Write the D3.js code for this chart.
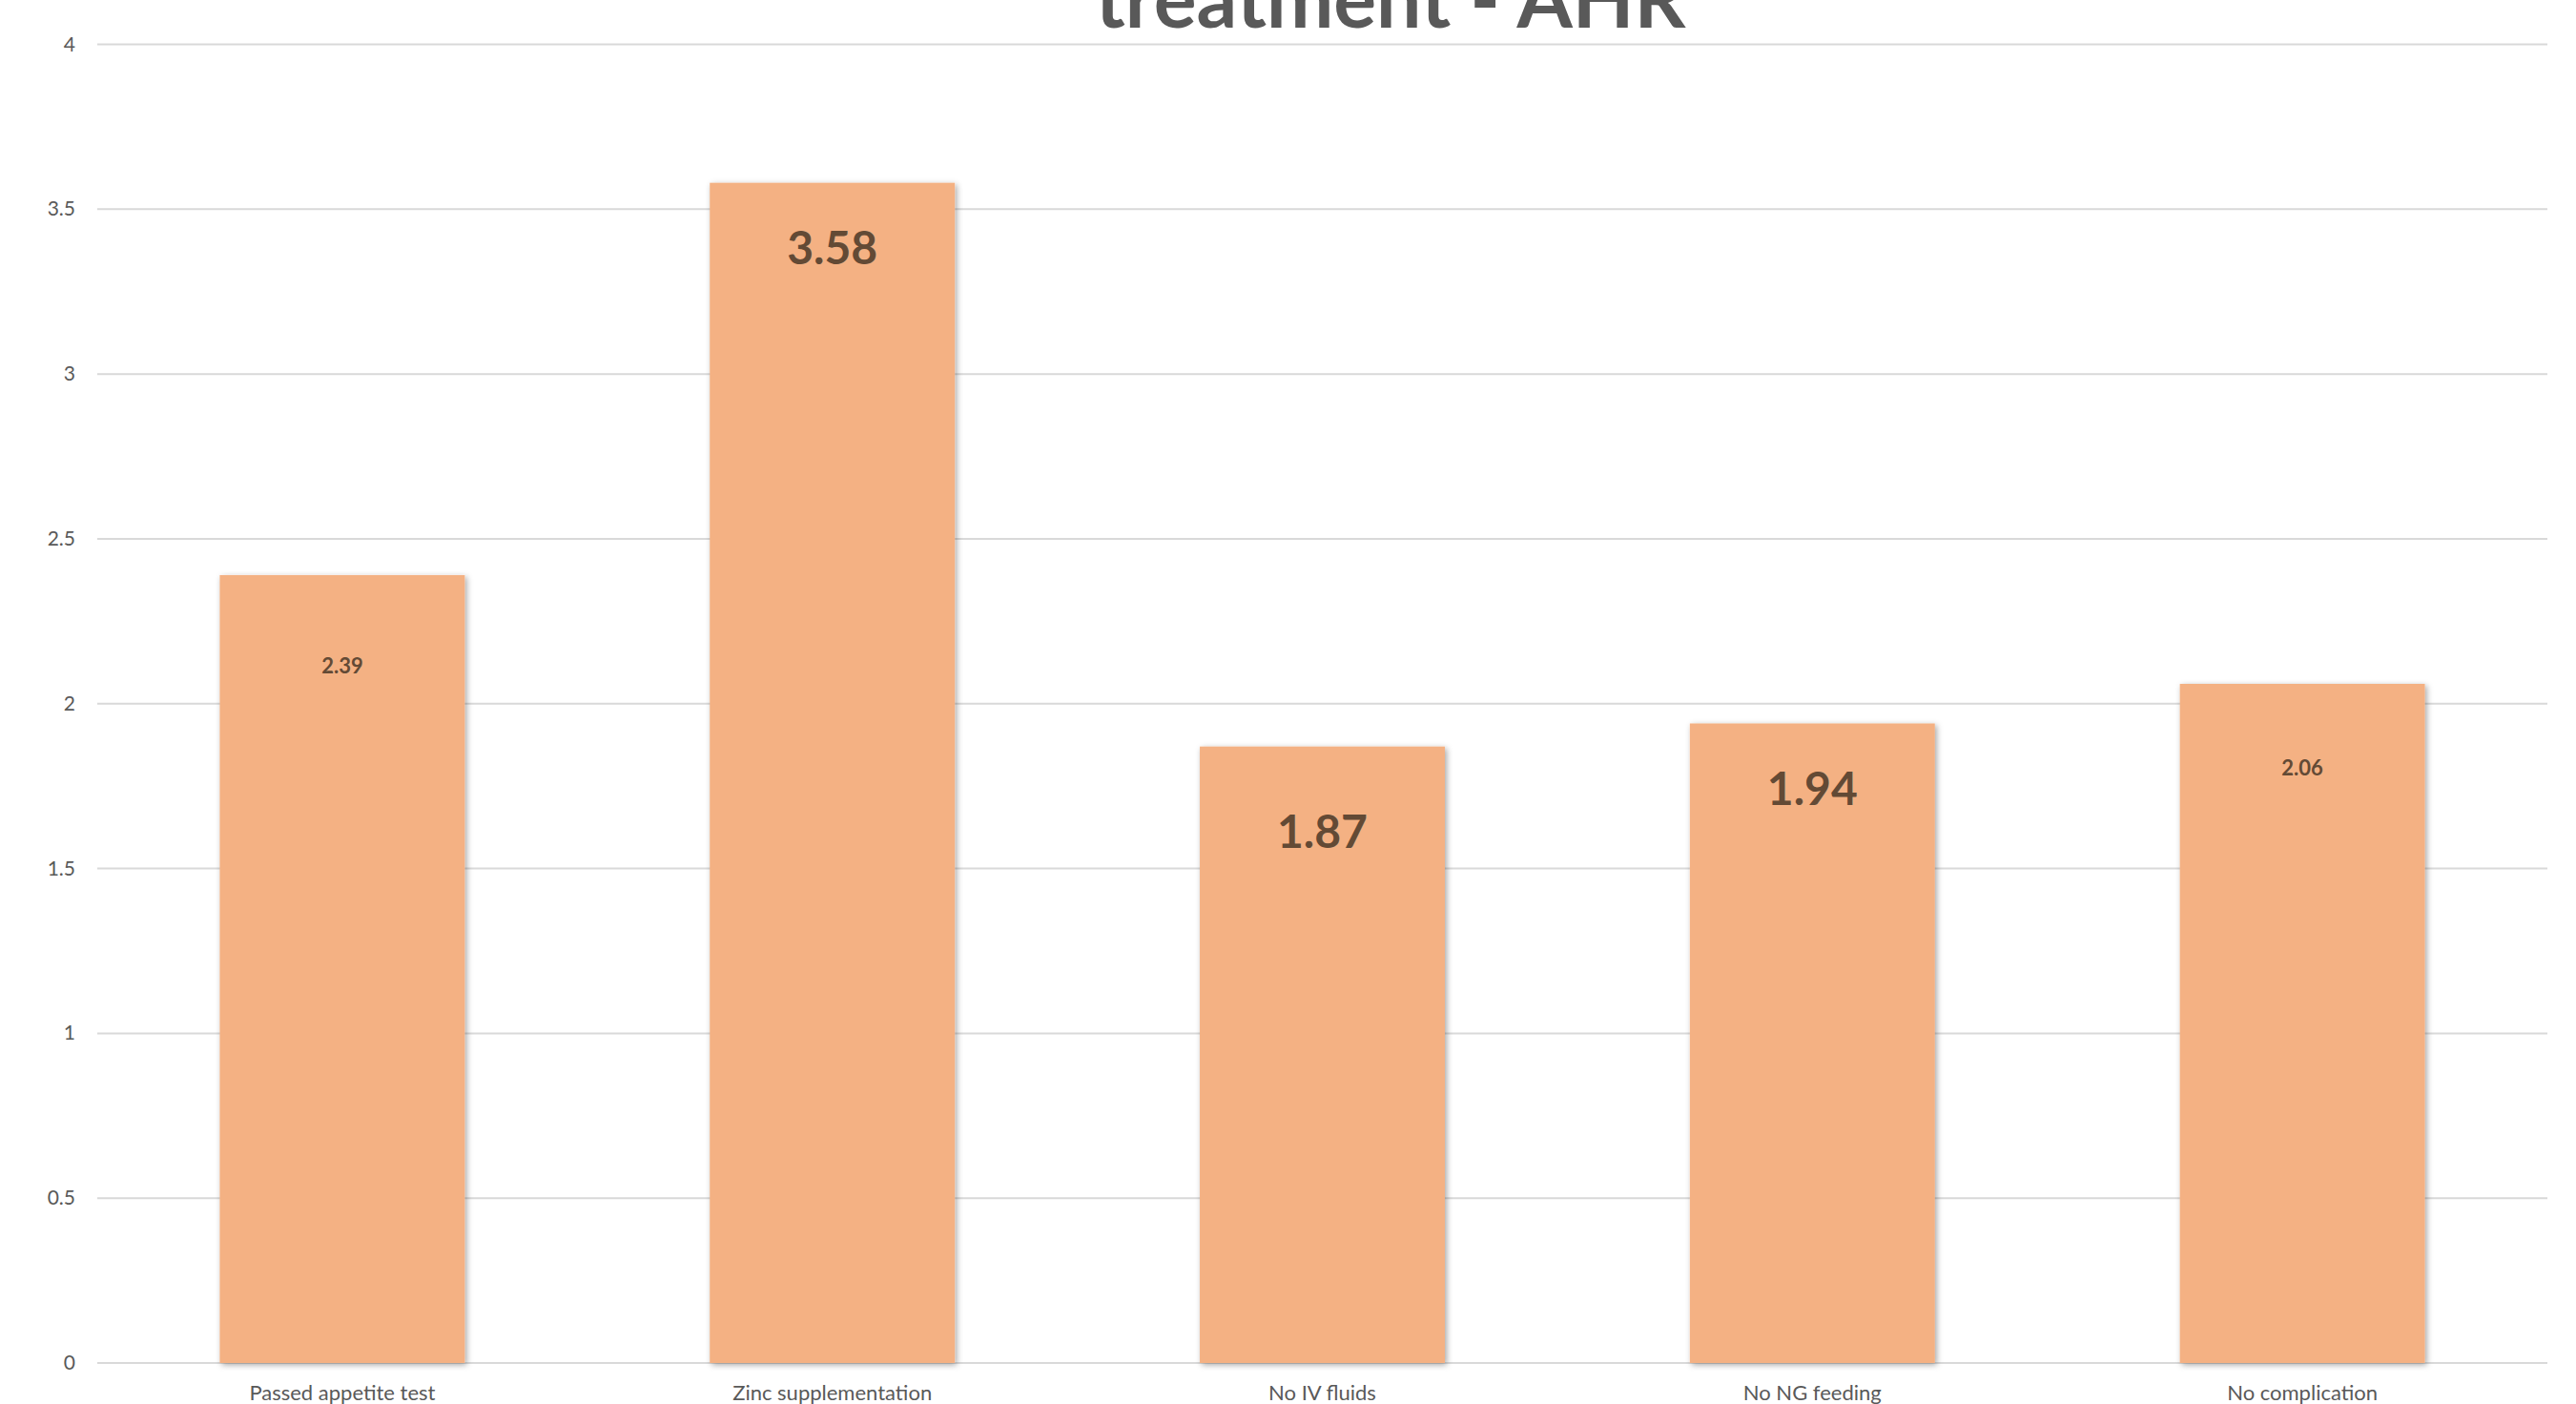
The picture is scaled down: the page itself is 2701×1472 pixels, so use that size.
<!DOCTYPE html>
<html>
<head>
<meta charset="utf-8">
<script src="https://cdn.jsdelivr.net/npm/d3@7"></script>
<style>
  html, body { margin: 0; padding: 0; background: #fff; }
</style>
</head>
<body>
<div id="chart"></div>
<script>
const categories = [
  "Passed appetite test", "Zinc supplementation", "No IV fluids",
  "No NG feeding", "No complication"
];
const values = [2.39, 3.58, 1.87, 1.94, 2.06];
const yTicks = [0, 0.5, 1, 1.5, 2, 2.5, 3, 3.5, 4];

// data label look (Excel labels had mixed sizes)
const labelSize = [22, 48, 48, 48, 22];
const labelOffset = [103, 85, 106, 86, 96];

const width = 2701;
const height = 1472;
const margin = { top: 46.5, right: 30, bottom: 43, left: 102 };

const x = d3.scaleBand()
  .domain(categories)
  .range([margin.left, width - margin.right])
  .paddingInner(0.5)
  .paddingOuter(0.25);

const y = d3.scaleLinear()
  .domain([0, 4])
  .range([height - margin.bottom, margin.top]);

const svg = d3.select("#chart")
  .append("svg")
  .attr("width", width)
  .attr("height", height)
  .style("font-family", "Lato, 'Open Sans', sans-serif");

const defs = svg.append("defs");
defs.append("filter")
  .attr("id", "shadow")
  .attr("x", "-10%").attr("y", "-10%")
  .attr("width", "120%").attr("height", "120%")
  .append("feDropShadow")
  .attr("dx", 2).attr("dy", 2)
  .attr("stdDeviation", 3)
  .attr("flood-color", "#000")
  .attr("flood-opacity", 0.35);

// gridlines
svg.append("g")
  .selectAll("line")
  .data(yTicks)
  .join("line")
  .attr("x1", margin.left)
  .attr("x2", width - margin.right)
  .attr("y1", d => y(d))
  .attr("y2", d => y(d))
  .attr("stroke", "#d9d9d9")
  .attr("stroke-width", 2);

// y tick labels
svg.append("g")
  .selectAll("text")
  .data(yTicks)
  .join("text")
  .attr("x", 79)
  .attr("y", d => y(d) + 7)
  .attr("text-anchor", "end")
  .attr("font-size", "21px")
  .attr("fill", "#595959")
  .text(d => d);

// bars
svg.append("g")
  .selectAll("rect")
  .data(values)
  .join("rect")
  .attr("x", (d, i) => x(categories[i]))
  .attr("y", d => y(d))
  .attr("width", x.bandwidth())
  .attr("height", d => y(0) - y(d))
  .attr("fill", "#F4B183")
  .attr("filter", "url(#shadow)");

// data labels
svg.append("g")
  .selectAll("text")
  .data(values)
  .join("text")
  .attr("x", (d, i) => x(categories[i]) + x.bandwidth() / 2)
  .attr("y", (d, i) => y(d) + labelOffset[i])
  .attr("text-anchor", "middle")
  .attr("font-weight", "bold")
  .attr("font-size", (d, i) => labelSize[i] + "px")
  .attr("fill", "#634A35")
  .text(d => d.toFixed(2));

// category labels
svg.append("g")
  .selectAll("text")
  .data(categories)
  .join("text")
  .attr("x", d => x(d) + x.bandwidth() / 2)
  .attr("y", height - 4)
  .attr("text-anchor", "middle")
  .attr("font-size", "22px")
  .attr("fill", "#595959")
  .text(d => d);

// title (top line falls outside the picture, as in the original)
svg.append("text")
  .attr("x", 1458)
  .attr("y", 29)
  .attr("text-anchor", "middle")
  .attr("font-size", "84px")
  .attr("font-weight", "bold")
  .attr("fill", "#595959")
  .text("treatment - AHR");
</script>
</body>
</html>
